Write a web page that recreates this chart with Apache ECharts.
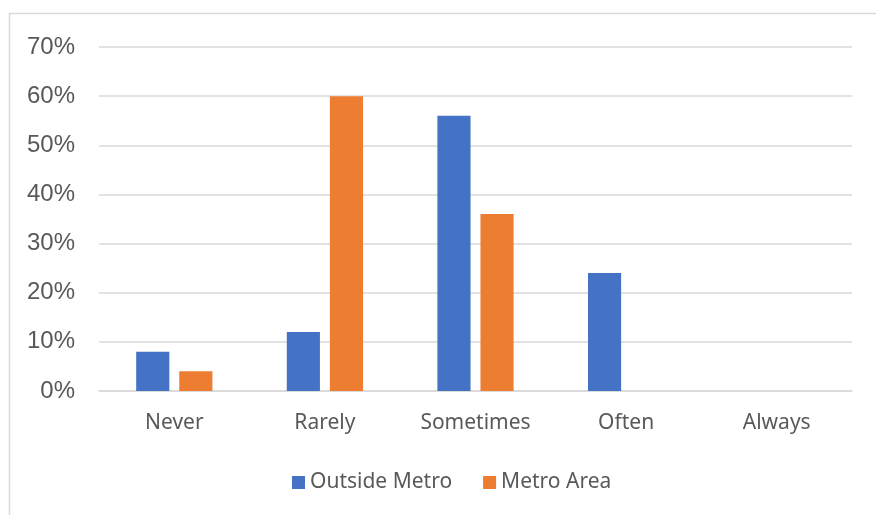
<!DOCTYPE html>
<html>
<head>
<meta charset="utf-8">
<script src="https://cdn.jsdelivr.net/npm/echarts@6/dist/echarts.min.js"></script>
<style>
  html, body { margin: 0; padding: 0; background: #ffffff; }
  #chart { width: 876px; height: 515px; }
</style>
</head>
<body>
<div id="chart"></div>
<script>
// Frequency categories and the share of respondents in each group
const categories = ['Never', 'Rarely', 'Sometimes', 'Often', 'Always'];
const outsideMetro = [8, 12, 56, 24, 0];
const metroArea = [4, 60, 36, 0, 0];
const seriesNames = ['Outside Metro', 'Metro Area'];
const yTicks = { min: 0, max: 70, interval: 10 };

const chart = echarts.init(document.getElementById('chart'), null, { renderer: 'canvas' });

chart.setOption({
  animation: false,
  backgroundColor: '#ffffff',
  graphic: [{
    type: 'rect',
    shape: { x: 9.5, y: 13.5, width: 1000, height: 700 },
    style: { fill: 'none', stroke: '#d9d9d9', lineWidth: 1.5 },
    silent: true
  }],
  grid: { left: 99, right: 24, top: 47, bottom: 124, containLabel: false },
  legend: {
    bottom: 17,
    left: 287,
    itemWidth: 13,
    itemHeight: 13,
    itemGap: 31,
    icon: 'rect',
    textStyle: { fontFamily: 'Noto Sans', fontSize: 21, color: '#595959' },
    data: seriesNames
  },
  xAxis: {
    type: 'category',
    data: categories,
    axisLine: { show: true, lineStyle: { color: '#d9d9d9', width: 1.5 } },
    axisTick: { show: false },
    axisLabel: { fontFamily: 'Noto Sans', fontSize: 21, color: '#595959', margin: 22 },
    splitLine: { show: false }
  },
  yAxis: {
    type: 'value',
    min: yTicks.min,
    max: yTicks.max,
    interval: yTicks.interval,
    axisLine: { show: false },
    axisTick: { show: false },
    axisLabel: {
      fontFamily: 'Liberation Sans',
      fontSize: 24,
      color: '#595959',
      margin: 24,
      formatter: v => v + '%'
    },
    splitLine: { lineStyle: { color: '#d9d9d9', width: 1.5 } }
  },
  series: [
    {
      name: seriesNames[0],
      type: 'bar',
      data: outsideMetro,
      barWidth: '22%',
      barGap: '30%',
      itemStyle: { color: '#4472C4' }
    },
    {
      name: seriesNames[1],
      type: 'bar',
      data: metroArea,
      barWidth: '22%',
      barGap: '30%',
      itemStyle: { color: '#ED7D31' }
    }
  ]
});
</script>
</body>
</html>
